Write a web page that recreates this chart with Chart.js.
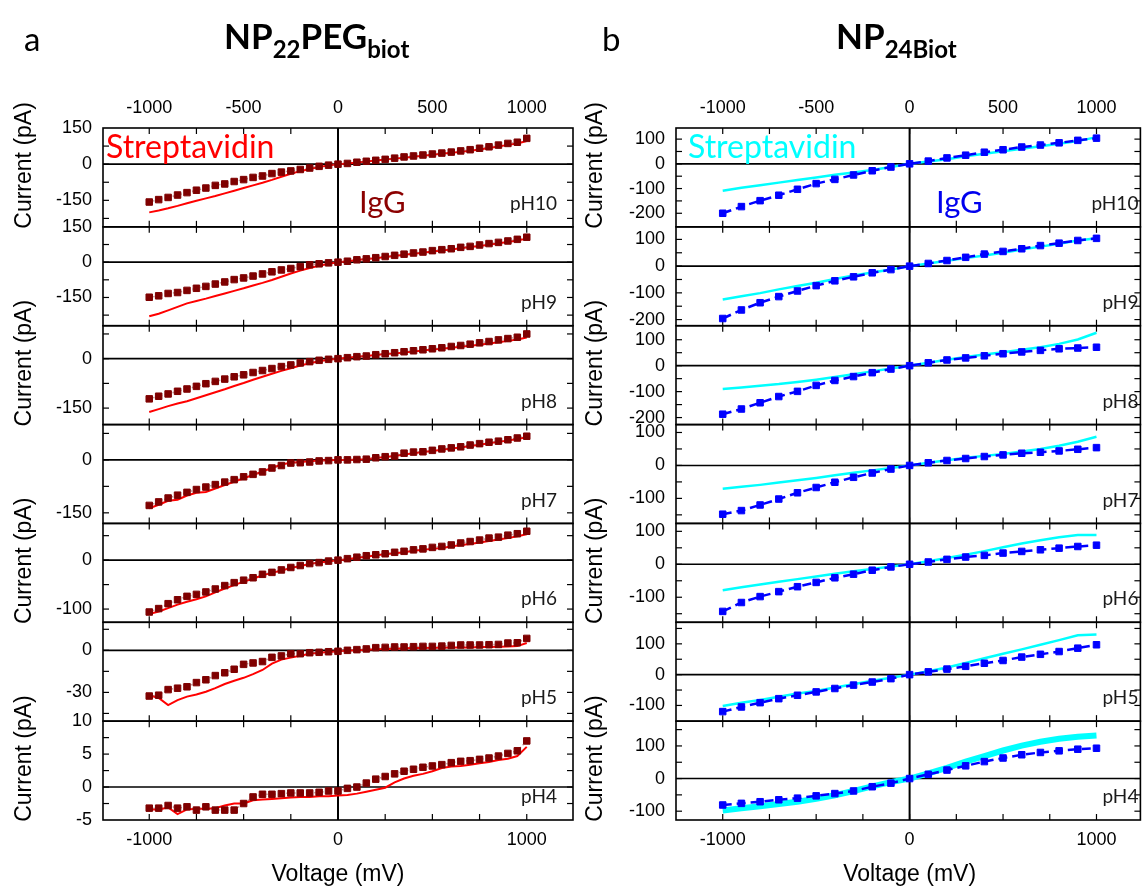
<!DOCTYPE html>
<html>
<head>
<meta charset="utf-8">
<title>I-V curves, NP22PEGbiot vs NP24Biot</title>
<script src="https://cdn.jsdelivr.net/npm/chart.js@4.4.1/dist/chart.umd.min.js"></script>
<style>
  html, body { margin: 0; padding: 0; background: #fff; }
  #wrap { position: relative; width: 1146px; height: 890px; overflow: hidden; }
  canvas { position: absolute; top: 0; }
  #colA { left: 0; }
  #colB { left: 580px; }
</style>
</head>
<body>
<div id="wrap">
  <canvas id="colA" width="590" height="890"></canvas>
  <canvas id="colB" width="566" height="890"></canvas>
</div>
<script>
// ---------- voltages (mV) ----------
const V50 = [-1000,-950,-900,-850,-800,-750,-700,-650,-600,-550,-500,-450,-400,-350,-300,-250,-200,-150,-100,-50,
             0,50,100,150,200,250,300,350,400,450,500,550,600,650,700,750,800,850,900,950,1000];
const V100 = [-1000,-900,-800,-700,-600,-500,-400,-300,-200,-100,0,100,200,300,400,500,600,700,800,900,1000];

const X_TOP_TICKS = [-1000, -500, 0, 500, 1000];
const X_BOTTOM_TICKS = [-1000, 0, 1000];
const X_MINOR = [-1000, -750, -500, -250, 0, 250, 500, 750, 1000];

// ---------- panel a : NP22PEGbiot (current, pA) ----------
const L_IGG_PH10 = [-157,-147,-138,-128,-118,-108,-99,-88,-82,-72,-64,-55,-49,-39,-33,-28,-22,-16,-9,-4,0,3,8,12,16,20,25,30,34,38,42,46,50,55,60,66,72,79,86,91,107];
const L_STR_PH10 = [-200,-192,-183,-173,-162,-152,-142,-132,-121,-110,-99,-88,-77,-65,-52,-40,-29,-20,-12,-5,0,3,7,11,15,19,23,27,31,35,39,43,47,51,56,61,67,73,80,86,96];
const L_IGG_PH9 = [-149,-143,-133,-129,-120,-111,-103,-93,-84,-74,-67,-59,-50,-41,-33,-27,-19,-11,-7,-3,0,4,10,14,19,24,29,34,39,43,49,53,57,63,67,73,79,84,90,97,106];
const L_STR_PH9 = [-230,-219,-205,-190,-175,-165,-155,-144,-133,-122,-111,-99,-88,-76,-62,-48,-36,-25,-15,-7,0,4,9,13,17,22,26,31,36,40,45,50,54,59,64,69,74,80,86,92,100];
const L_IGG_PH8 = [-122,-114,-107,-99,-92,-84,-76,-69,-62,-55,-49,-42,-36,-30,-24,-19,-13,-9,-5,-2,0,3,6,8,12,15,18,21,24,27,30,33,37,40,44,48,52,57,61,65,75];
const L_STR_PH8 = [-162,-153,-144,-136,-129,-120,-111,-102,-93,-83,-74,-64,-55,-46,-37,-29,-21,-14,-8,-3,0,3,6,8,11,14,16,19,22,25,28,30,33,36,39,42,46,50,54,58,64];
const L_IGG_PH7 = [-129,-119,-108,-100,-92,-84,-77,-70,-63,-56,-48,-41,-34,-23,-16,-9,-8,-6,-3,-2,0,0,1,2,6,9,11,19,22,23,27,31,34,37,42,46,50,53,57,62,67];
const L_STR_PH7 = [-137,-127,-116,-113,-101,-93,-91,-81,-71,-62,-52,-43,-33,-23,-13,-8,-6,-4,-2,-1,0,0,1,2,5,8,11,15,19,22,25,29,32,35,39,43,47,51,55,59,64];
const L_IGG_PH6 = [-106,-99,-89,-81,-74,-70,-65,-59,-52,-46,-41,-36,-29,-25,-20,-15,-11,-7,-5,-2,0,3,6,9,11,13,16,18,21,23,26,28,31,35,38,41,45,47,51,54,59];
const L_STR_PH6 = [-110,-105,-98,-91,-85,-80,-74,-66,-58,-51,-44,-38,-31,-26,-21,-16,-12,-8,-5,-3,0,2,5,7,10,12,14,16,19,21,23,25,28,31,33,36,39,42,45,49,53];
const L_IGG_PH5 = [-32.6,-32,-28,-27,-26,-23,-21,-18,-16,-13.5,-10,-9,-8,-5,-4,-2.4,-2.4,-1.7,-1.4,-1,-0.7,0,0.5,1,1.9,2.1,2.4,2.4,2.6,2.8,2.8,3,3.5,3.8,3.8,3.8,4,4.2,5.2,5.4,8.5];
const L_STR_PH5 = [-32,-34,-39,-35.5,-33,-31.5,-29.5,-27,-24,-21.7,-19.6,-17,-14,-9.5,-6.6,-5.2,-3.8,-2.4,-1.7,-1.2,-0.7,-0.2,0,0.5,0.7,1,1.2,1.4,1.6,1.6,1.9,1.9,2.1,2.1,2.1,2.4,2.4,2.6,2.8,3,5.2];
const L_IGG_PH4 = [-3.2,-3.2,-2.8,-3.2,-3.0,-3.5,-3.0,-3.5,-3.5,-3.5,-2.5,-1.5,-1.1,-1.1,-1.0,-0.9,-0.9,-0.9,-0.8,-0.6,-0.6,-0.2,0,0.6,1.2,1.6,2.0,2.4,2.7,3.0,3.2,3.4,3.7,3.9,4.0,4.2,4.4,4.7,5.1,5.5,7.0];
const L_STR_PH4 = [-3.4,-3.4,-3.1,-4.1,-3.4,-3.3,-3.3,-3.2,-2.8,-2.5,-2.5,-2.0,-1.9,-1.8,-1.7,-1.6,-1.5,-1.5,-1.4,-1.4,-1.3,-1.2,-1.0,-0.7,-0.4,-0.1,0.7,1.3,1.7,2.0,2.4,2.9,3.1,3.2,3.4,3.6,3.8,4.1,4.3,4.7,6.1];

// ---------- panel b : NP24Biot (current, pA) ----------
const R_IGG_PH10 = [-200,-173,-149,-127,-103,-80,-63,-45,-28,-13,0,11,24,35,47,57,68,76,85,95,104];
const R_STR_PH10 = [-109,-97,-87,-76,-65,-55,-44,-35,-25,-13,0,9,19,31,41,51,61,71,81,92,108];
const R_IGG_PH9 = [-196,-164,-137,-114,-93,-73,-55,-40,-25,-13,0,10,21,33,45,55,65,77,86,96,104];
const R_STR_PH9 = [-125,-113,-101,-87,-74,-62,-48,-35,-24,-13,0,10,20,30,40,50,62,73,84,96,104];
const R_IGG_PH8 = [-187,-167,-143,-119,-99,-76,-57,-42,-27,-13,0,11,22,30,38,46,53,59,65,68,71];
const R_STR_PH8 = [-90,-84,-77,-71,-63,-54,-44,-33,-22,-11,0,11,23,33,43,52,61,71,84,101,127];
const R_IGG_PH7 = [-148,-137,-120,-102,-83,-67,-51,-36,-23,-11,0,8,15,21,27,32,37,40,44,49,54];
const R_STR_PH7 = [-71,-65,-59,-52,-45,-38,-30,-22,-15,-8,0,8,16,23,29,35,42,50,60,72,87];
const R_IGG_PH6 = [-143,-116,-98,-83,-68,-55,-41,-30,-18,-8,0,7,15,22,27,34,39,44,49,54,58];
const R_STR_PH6 = [-79,-70,-61,-53,-45,-37,-29,-21,-14,-7,0,9,19,29,40,52,63,73,82,89,89];
const R_IGG_PH5 = [-120,-105,-91,-78,-67,-56,-45,-34,-24,-13,0,9,18,27,37,46,57,66,75,86,97];
const R_STR_PH5 = [-102,-91,-82,-72,-61,-53,-42,-31,-20,-10,0,11,23,38,53,68,82,97,112,128,130];
const R_IGG_PH4 = [-81,-76,-71,-65,-60,-53,-46,-38,-25,-14,0,13,26,39,52,63,73,80,85,90,93];
const R_STR_PH4 = [-98,-91,-85,-78,-71,-62,-51,-38,-24,-11,0,16,33,52,69,86,101,113,122,128,132];

// panel y ranges and tick values (labels = ticks that carry text)
const LEFT_PANELS = [
  { ph:'pH10', min:-260, max:150, ticks:[-225,-150,-75,0,75,150], labels:[-150,0,150], igg:L_IGG_PH10, str:L_STR_PH10 },
  { ph:'pH9',  min:-270, max:150, ticks:[-225,-150,-75,0,75,150], labels:[-150,0,150], igg:L_IGG_PH9,  str:L_STR_PH9 },
  { ph:'pH8',  min:-200, max:100, ticks:[-150,-75,0,75], labels:[-150,0], igg:L_IGG_PH8, str:L_STR_PH8 },
  { ph:'pH7',  min:-180, max:100, ticks:[-150,-75,0,75], labels:[-150,0], igg:L_IGG_PH7, str:L_STR_PH7 },
  { ph:'pH6',  min:-127, max:75,  ticks:[-100,-50,0,50], labels:[-100,0], igg:L_IGG_PH6, str:L_STR_PH6 },
  { ph:'pH5',  min:-50.5, max:20, ticks:[-45,-30,-15,0,15], labels:[-30,0], igg:L_IGG_PH5, str:L_STR_PH5 },
  { ph:'pH4',  min:-5, max:10,    ticks:[-5,-2.5,0,2.5,5,7.5,10], labels:[-5,0,5,10], igg:L_IGG_PH4, str:L_STR_PH4 }
];
const RIGHT_PANELS = [
  { ph:'pH10', min:-255, max:145, ticks:[-200,-150,-100,-50,0,50,100], labels:[-200,-100,0,100], igg:R_IGG_PH10, str:R_STR_PH10 },
  { ph:'pH9',  min:-223, max:147, ticks:[-200,-150,-100,-50,0,50,100], labels:[-200,-100,0,100], igg:R_IGG_PH9,  str:R_STR_PH9 },
  { ph:'pH8',  min:-227, max:154, ticks:[-200,-150,-100,-50,0,50,100,150], labels:[-200,-100,0,100], igg:R_IGG_PH8, str:R_STR_PH8 },
  { ph:'pH7',  min:-176, max:124, ticks:[-150,-100,-50,0,50,100], labels:[-100,0,100], igg:R_IGG_PH7, str:R_STR_PH7 },
  { ph:'pH6',  min:-176, max:124, ticks:[-150,-100,-50,0,50,100], labels:[-100,0,100], igg:R_IGG_PH6, str:R_STR_PH6 },
  { ph:'pH5',  min:-151, max:170, ticks:[-150,-100,-50,0,50,100,150], labels:[-100,0,100], igg:R_IGG_PH5, str:R_STR_PH5 },
  { ph:'pH4',  min:-127, max:176, ticks:[-100,-50,0,50,100,150], labels:[-100,0,100], igg:R_IGG_PH4, str:R_STR_PH4, strWidth:6 }
];

const TICK_FONT = { family: '"Liberation Sans", Arial, sans-serif', size: 18 };
const SANS = '"Liberation Sans", Arial, sans-serif';
const TL = 6; // inward tick length

// ---------- decoration plugin (frames, inward ticks, zero lines, texts) ----------
function makeDecor(col) {
  function seg(ctx, x1, y1, x2, y2) {
    ctx.beginPath(); ctx.moveTo(x1, y1); ctx.lineTo(x2, y2); ctx.stroke();
  }
  return {
    id: 'decor',
    beforeDatasetsDraw(chart) {
      const ctx = chart.ctx, a = chart.chartArea, xs = chart.scales.x;
      ctx.save();
      ctx.strokeStyle = '#000';
      col.panels.forEach((p, i) => {
        const ys = chart.scales['y' + i];
        const top = ys.top, bot = ys.bottom;
        ctx.lineWidth = 1.6;
        const y0 = ys.getPixelForValue(0);
        seg(ctx, a.left, y0, a.right, y0);
        ctx.lineWidth = 1.2;
        p.ticks.forEach(v => {
          const py = ys.getPixelForValue(v);
          if (py < top + 2 || py > bot - 2) return;
          seg(ctx, a.left, py, a.left + TL, py);
          seg(ctx, a.right - TL, py, a.right, py);
        });
        X_MINOR.forEach(v => {
          const px = xs.getPixelForValue(v);
          seg(ctx, px, top, px, top + TL);
          seg(ctx, px, bot - TL, px, bot);
        });
        ctx.lineWidth = 1.6;
        ctx.strokeRect(a.left, top, a.right - a.left, bot - top);
      });
      const x0 = xs.getPixelForValue(0);
      ctx.lineWidth = 2;
      seg(ctx, x0, a.top, x0, a.bottom);
      ctx.restore();
    },
    afterDraw(chart) {
      const ctx = chart.ctx, a = chart.chartArea, xs = chart.scales.x;
      ctx.save();
      // pH labels
      ctx.font = '19px Lato, sans-serif';
      ctx.fillStyle = '#1a1a1a';
      ctx.textAlign = 'right';
      ctx.textBaseline = 'alphabetic';
      col.panels.forEach((p, i) => {
        const ys = chart.scales['y' + i];
        ctx.fillText(p.ph, a.right + col.phDx, ys.top + 82);
      });
      // series names in the top panel
      const yTop = chart.scales.y0.top;
      ctx.textAlign = 'left';
      ctx.font = '32px Lato, sans-serif';
      ctx.fillStyle = col.strColor;
      ctx.fillText('Streptavidin', a.left + col.strDx, yTop + 30);
      ctx.fillStyle = col.iggText;
      ctx.font = '31px Lato, sans-serif';
      ctx.fillText('IgG', a.left + col.iggDx, yTop + 85);
      // axis titles
      ctx.fillStyle = '#000';
      ctx.font = '23px ' + SANS;
      ctx.textAlign = 'center';
      ctx.textBaseline = 'middle';
      [0, 2, 4, 6].forEach(i => {
        const ys = chart.scales['y' + i];
        ctx.save();
        ctx.translate(col.yTitleX, (ys.top + ys.bottom) / 2 - 12);
        ctx.rotate(-Math.PI / 2);
        ctx.fillText('Current (pA)', 0, 0);
        ctx.restore();
      });
      ctx.fillText('Voltage (mV)', xs.getPixelForValue(0), 875);
      // panel letter and heading
      ctx.textAlign = 'left';
      ctx.textBaseline = 'alphabetic';
      ctx.font = '33px Lato, sans-serif';
      ctx.fillText(col.letter, col.letterX, 51);
      let cx = col.headX;
      col.heading.forEach(([txt, sub]) => {
        ctx.font = sub ? 'bold 24px Lato, sans-serif' : 'bold 35px Lato, sans-serif';
        ctx.fillText(txt, cx, sub ? 58 : 49);
        cx += ctx.measureText(txt).width;
      });
      ctx.restore();
    }
  };
}

function pts(xs, ys) { return xs.map((x, i) => ({ x: x, y: ys[i] })); }

function buildColumn(canvasId, col) {
  const scales = {
    x: {
      type: 'linear', position: 'bottom', min: col.xMin, max: col.xMax,
      afterBuildTicks: ax => { ax.ticks = X_BOTTOM_TICKS.map(v => ({ value: v })); },
      afterFit: ax => { ax.height = 70; },
      grid: { display: false, drawTicks: false }, border: { display: false },
      ticks: { padding: 9, color: '#000', font: TICK_FONT, autoSkip: false, maxRotation: 0, callback: v => String(v) }
    },
    xt: {
      type: 'linear', position: 'top', min: col.xMin, max: col.xMax,
      afterBuildTicks: ax => { ax.ticks = X_TOP_TICKS.map(v => ({ value: v })); },
      afterFit: ax => { ax.height = 128; },
      grid: { display: false, drawTicks: false }, border: { display: false },
      ticks: { padding: 9, color: '#000', font: TICK_FONT, autoSkip: false, maxRotation: 0, callback: v => String(v) }
    }
  };
  const datasets = [];
  col.panels.forEach((p, i) => {
    scales['y' + i] = {
      type: 'linear', position: 'left', stack: 'ph', stackWeight: 1, weight: col.panels.length - i,
      min: p.min, max: p.max,
      afterBuildTicks: ax => { ax.ticks = p.labels.map(v => ({ value: v })); },
      afterFit: ax => { ax.width = col.axisW; },
      grid: { display: false, drawTicks: false }, border: { display: false },
      ticks: { padding: 11, color: '#000', font: TICK_FONT, autoSkip: false, callback: v => String(v) }
    };
    // IgG first so it is painted above the Streptavidin trace
    datasets.push(Object.assign({
      label: 'IgG ' + p.ph, data: pts(col.vIgg, p.igg), xAxisID: 'x', yAxisID: 'y' + i
    }, col.iggStyle));
    datasets.push(Object.assign({
      label: 'Streptavidin ' + p.ph, data: pts(col.vStr, p.str), xAxisID: 'x', yAxisID: 'y' + i
    }, col.strStyle, { borderWidth: p.strWidth || col.strStyle.borderWidth }));
  });

  return new Chart(document.getElementById(canvasId), {
    type: 'line',
    data: { datasets },
    options: {
      responsive: false, animation: false, devicePixelRatio: 1, events: [],
      layout: { padding: { left: 0, right: col.padRight, top: 0, bottom: 0 } },
      elements: { line: { tension: 0 } },
      plugins: { legend: { display: false }, tooltip: { enabled: false } },
      scales
    },
    plugins: [makeDecor(col)]
  });
}

// ---------- a ----------
buildColumn('colA', {
  panels: LEFT_PANELS, vIgg: V50, vStr: V50,
  xMin: -1245, xMax: 1245, axisW: 103, padRight: 17,
  iggStyle: { borderColor: 'rgba(150,70,70,0.55)', borderWidth: 1.5, borderDash: [1.5, 2.5],
              pointStyle: 'rect', pointRadius: 4.6, pointBackgroundColor: '#7f0000', pointBorderColor: '#7f0000', pointBorderWidth: 1 },
  strStyle: { borderColor: '#ff0000', borderWidth: 2, pointRadius: 0 },
  strColor: '#ff0000', iggText: '#8b0000', strDx: 3, iggDx: 256, phDx: -16, yTitleX: 25,
  letter: 'a', letterX: 24, headX: 224,
  heading: [['NP', false], ['22', true], ['PEG', false], ['biot', true]]
});

// ---------- b ----------
buildColumn('colB', {
  panels: RIGHT_PANELS, vIgg: V100, vStr: V100,
  xMin: -1250, xMax: 1235, axisW: 96, padRight: 3,
  iggStyle: { borderColor: '#0000ff', borderWidth: 2.5, borderDash: [9, 5],
              pointStyle: 'rect', pointRadius: 4.6, pointBackgroundColor: '#0000ff', pointBorderColor: '#0000ff', pointBorderWidth: 1 },
  strStyle: { borderColor: '#00ffff', borderWidth: 2.5, pointRadius: 0 },
  strColor: '#00ffff', iggText: '#0000ee', strDx: 12, iggDx: 260, phDx: -2, yTitleX: 16,
  letter: 'b', letterX: 22, headX: 256,
  heading: [['NP', false], ['24Biot', true]]
});
</script>
</body>
</html>
